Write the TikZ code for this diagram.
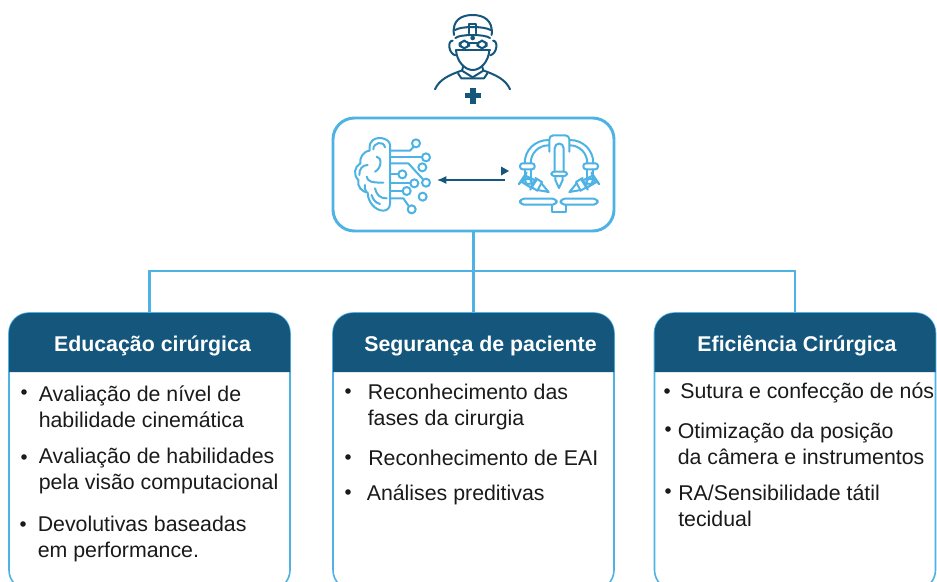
\documentclass[tikz,border=0pt]{standalone}
\usepackage{fontspec}
\setmainfont{Liberation Sans}
\usetikzlibrary{arrows.meta,positioning}
\definecolor{surgnavy}{HTML}{14567C}
\definecolor{surgsky}{HTML}{4DB2E4}
\definecolor{surgtext}{HTML}{1A1A1A}
\tikzset{
  hubbox/.style={draw=surgsky,line width=2.2pt,rounded corners=16pt,minimum width=210.75pt,minimum height=84.75pt,inner sep=0pt},
  cardbody/.style={draw=surgsky,line width=1.2pt,fill=white,rounded corners=15pt,minimum width=210.75pt,minimum height=207.75pt,inner sep=0pt},
  cardhead/.style={fill=surgnavy},
  cardtitle/.style={font=\fontsize{16}{19}\selectfont\bfseries,text=white,inner sep=0pt},
  itemtext/.style={font=\fontsize{16}{19.5}\selectfont,text=surgtext,anchor=west,align=left,inner sep=0pt},
  bulletdot/.style={circle,fill=surgtext,inner sep=0pt,minimum size=4.2pt},
  trunk/.style={draw=surgsky,line width=2.2pt},
  iconline/.style={draw=surgsky,line width=1.5pt,line cap=round,line join=round},
  headline/.style={draw=surgnavy,line width=1.5pt,line cap=round,line join=round}
}
\begin{document}
\begin{tikzpicture}[x=0.75pt,y=-0.75pt]

  % ---- Page ---------------------------------------------------
  \useasboundingbox (0,0) rectangle (937,581);
  \clip (0,0) rectangle (937,581);
  \fill[white] (0,0) rectangle (937,581);

  % ---- Boxes --------------------------------------------------
  \node[hubbox] (hub) at (473.5,174.5) {};
  \node[cardbody] (educ) at (149.5,451.5) {};
  \node[cardbody] (segur) at (473.5,451.5) {};
  \node[cardbody] (efic) at (795,451.5) {};

  % ---- Tree connectors ----------------------------------------
  \coordinate (split) at (473.5,271);
  \draw[trunk] (hub.south) -- (segur.north);
  \draw[trunk] (educ.north) |- (split) -| (efic.north);

  % ---- Card headers -------------------------------------------
  \fill[cardhead] (9,372) [rounded corners=15pt] -- (9,313) -- (290,313) [sharp corners] -- (290,372) -- cycle;
  \fill[cardhead] (333,372) [rounded corners=15pt] -- (333,313) -- (614,313) [sharp corners] -- (614,372) -- cycle;
  \fill[cardhead] (654.5,372) [rounded corners=15pt] -- (654.5,313) -- (935.5,313) [sharp corners] -- (935.5,372) -- cycle;
  \node[cardtitle] (eductitle) at (152.5,346) {Educação cirúrgica};
  \node[cardtitle] (segurtitle) at (480.5,346) {Segurança de paciente};
  \node[cardtitle] (efictitle) at (797,346) {Eficiência Cirúrgica};

  % ---- Left card items ----------------------------------------
  \node[bulletdot] (educa) at (24,392) {};
  \node[itemtext] (educatext) at (38.5,406.5) {Avaliação de nível de\\habilidade cinemática};
  \node[bulletdot] (educb) at (24,457) {};
  \node[itemtext] (educbtext) at (38.5,471) {Avaliação de habilidades\\pela visão computacional};
  \node[bulletdot] (educc) at (23,524) {};
  \node[itemtext] (educctext) at (37.5,539) {Devolutivas baseadas\\em performance.};

  % ---- Middle card items --------------------------------------
  \node[bulletdot] (segura) at (348,391) {};
  \node[itemtext] (seguratext) at (367.5,407) {Reconhecimento das\\fases da cirurgia};
  \node[bulletdot] (segurb) at (348,457) {};
  \node[itemtext] (segurbtext) at (368,457.5) {Reconhecimento de EAI};
  \node[bulletdot] (segurc) at (348,492) {};
  \node[itemtext] (segurctext) at (366.5,495) {Análises preditivas};

  % ---- Right card items ---------------------------------------
  \node[bulletdot] (efica) at (667,391) {};
  \node[itemtext] (eficatext) at (680,393) {Sutura e confecção de nós};
  \node[bulletdot] (eficb) at (668,429) {};
  \node[itemtext] (eficbtext) at (677.5,443.5) {Otimização da posição\\ da câmera e instrumentos};
  \node[bulletdot] (eficc) at (668,491) {};
  \node[itemtext] (eficctext) at (678,506) {RA/Sensibilidade tátil\\tecidual};

  % ---- Arrow between brain and robot --------------------------
  \coordinate (brainport) at (437,180);
  \coordinate (robotport) at (505,180);
  \draw[surgnavy,line width=0.9pt,-{Latex[length=7pt,width=6pt]}] (robotport) -- (brainport);
  \fill[surgnavy] (501,166.5) -- (509,171) -- (501,175.5) -- cycle;

  % ---- Surgeon icon -------------------------------------------
  \begin{scope}[shift={(320,0)},x=0.25pt,y=-0.25pt]
    % Cap
    \draw[headline] (402,105) .. controls (395,60) and (425,45) .. (458,45) .. controls (490,45) and (520,60) .. (515,105);
    \draw[headline] (405,90) .. controls (425,78) and (490,78) .. (512,90);
    \draw[headline] (406,114) .. controls (420,102) and (495,102) .. (510,114);
    % Lamp
    \draw[headline] (447,100) -- (447,72) -- (468,72) -- (468,100);
    \fill[surgnavy] (458,114) circle (7);
    % Glasses
    \draw[headline,rounded corners=4pt] (419,122) rectangle (447,145);
    \draw[headline,rounded corners=4pt] (472,122) rectangle (500,145);
    \draw[headline] (447,128) -- (472,128);
    \draw[headline] (408,150) -- (510,150);
    % Ears
    \draw[headline] (398,122) .. controls (382,122) and (385,160) .. (406,166);
    \draw[headline] (519,122) .. controls (535,122) and (532,160) .. (511,166);
    % Face
    \draw[headline] (408,150) .. controls (410,185) and (435,210) .. (458,210) .. controls (482,210) and (506,185) .. (508,150);
    % Neck and collar
    \draw[headline] (430,198) -- (426,212) -- (458,232) -- (490,212) -- (486,198);
    \draw[headline] (414,220) -- (424,235) -- (492,235) -- (502,220);
    % Shoulders
    \draw[headline] (345,268) .. controls (358,238) and (388,225) .. (424,212);
    \draw[headline] (570,268) .. controls (557,238) and (527,225) .. (492,212);
    % Plus
    \fill[surgnavy] (450,263) rectangle (467,311);
    \fill[surgnavy] (434,279) rectangle (484,295);
  \end{scope}

  % ---- Brain icon ---------------------------------------------
  \begin{scope}[shift={(345,130)},x=0.25pt,y=-0.25pt]
    % Outline
    \draw[iconline] (135,220) -- (135,45) .. controls (135,25) and (90,12) .. (76,40) .. controls (72,48) and (74,55) .. (74,62) .. controls (52,65) and (44,85) .. (46,100) .. controls (28,110) and (24,135) .. (40,150) .. controls (36,170) and (50,185) .. (68,188) .. controls (68,215) and (90,242) .. (115,242) .. controls (128,242) and (135,232) .. (135,220);
    % Folds
    \draw[iconline] (85,58) .. controls (85,38) and (115,30) .. (120,52);
    \draw[iconline] (95,80) .. controls (112,82) and (110,115) .. (90,125);
    \draw[iconline] (68,105) .. controls (52,105) and (42,118) .. (43,135);
    \draw[iconline] (65,140) .. controls (68,155) and (80,158) .. (115,158);
    \draw[iconline] (60,165) .. controls (58,172) and (60,180) .. (64,186);
    \draw[iconline] (90,175) .. controls (95,195) and (105,205) .. (125,205);
    \draw[iconline] (80,195) .. controls (84,210) and (92,218) .. (105,222);
    % Circuit traces
    \draw[iconline] (137,62) -- (195,62) -- (206,50);
    \draw[iconline] (137,82) -- (232,82);
    \draw[iconline] (137,100) -- (190,100) -- (234,148);
    \draw[iconline] (137,133) -- (160,133);
    \draw[iconline] (137,160) -- (196,160);
    \draw[iconline] (137,183) -- (173,183);
    \draw[iconline] (137,205) -- (175,205) -- (191,228);
    % Circuit ends
    \draw[iconline] (213,40) circle (12);
    \draw[iconline] (243,82) circle (12);
    \draw[iconline] (232,112) circle (12);
    \draw[iconline] (172,133) circle (12);
    \draw[iconline] (208,160) circle (12);
    \draw[iconline] (243,158) circle (12);
    \draw[iconline] (185,183) circle (12);
    \draw[iconline] (233,200) circle (12);
    \draw[iconline] (200,238) circle (12);
  \end{scope}

  % ---- Robot icon ---------------------------------------------
  \begin{scope}[shift={(500,130)},x=0.25pt,y=-0.25pt]
    % Head and centre arm
    \draw[iconline,rounded corners=3pt] (148,65) -- (148,16) -- (208,16) -- (208,65);
    \draw[iconline] (164,125) -- (164,55) .. controls (164,36) and (191,36) .. (191,55) -- (191,125);
    \draw[iconline,rounded corners=2pt] (154,125) rectangle (201,138);
    \draw[iconline] (166,138) -- (166,150) -- (177,174) -- (188,150) -- (188,138);
    % Left side
    \draw[iconline] (146,30) .. controls (105,30) and (74,60) .. (74,100);
    \draw[iconline] (146,46) .. controls (115,46) and (92,70) .. (92,100);
    \draw[iconline,rounded corners=2pt] (60,100) rectangle (104,118);
    \draw[iconline] (74,118) -- (74,136);
    \draw[iconline] (92,118) -- (92,142);
    \draw[iconline,rounded corners=8pt] (74,136) -- (62,154) -- (94,174) -- (108,152) -- cycle;
    \draw[iconline] (106,144) -- (126,156) -- (112,182) -- (92,170);
    \draw[iconline] (124,160) -- (146,186) -- (112,180);
    % Right side
    \draw[iconline] (210,30) .. controls (249,30) and (280,60) .. (280,100);
    \draw[iconline] (210,46) .. controls (239,46) and (262,70) .. (262,100);
    \draw[iconline,rounded corners=2pt] (250,100) rectangle (294,118);
    \draw[iconline] (280,118) -- (280,136);
    \draw[iconline] (262,118) -- (262,142);
    \draw[iconline,rounded corners=8pt] (280,136) -- (292,154) -- (260,174) -- (246,152) -- cycle;
    \draw[iconline] (248,144) -- (228,156) -- (242,182) -- (262,170);
    \draw[iconline] (230,160) -- (208,186) -- (242,180);
    % Base
    \draw[iconline,rounded corners=3pt] (60,206) rectangle (170,224);
    \draw[iconline,rounded corners=3pt] (182,206) rectangle (293,224);
    \draw[iconline] (155,226) -- (155,247) -- (197,247) -- (197,226);
  \end{scope}

\end{tikzpicture}
\end{document}
